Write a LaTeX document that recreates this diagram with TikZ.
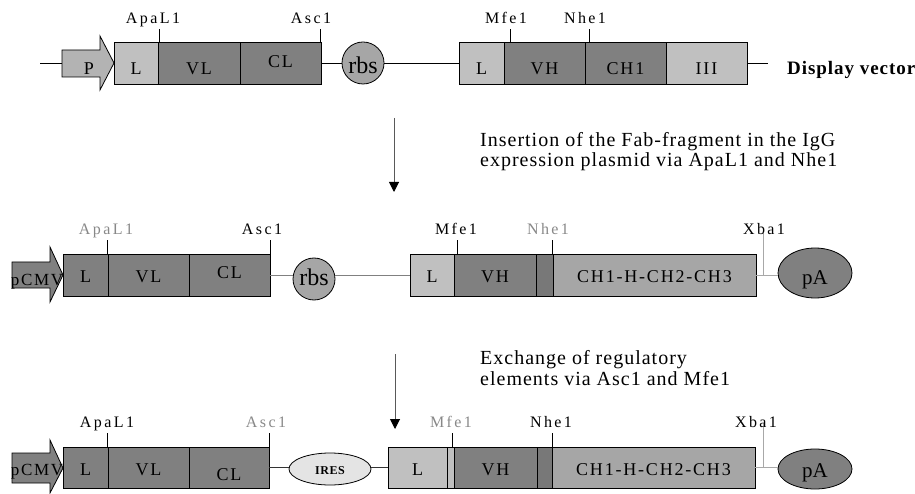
\documentclass[tikz,border=0pt]{standalone}
\usepackage{fontspec}
\setmainfont{Liberation Serif}
\newfontfamily\siteF[LetterSpace=15]{Liberation Serif}
\newfontfamily\boxF[LetterSpace=10]{Liberation Serif}
\newfontfamily\descF[LetterSpace=5]{Liberation Serif}
\newfontfamily\tagF[LetterSpace=5]{Liberation Serif}
\usetikzlibrary{arrows.meta,shapes.geometric}

\definecolor{ltgray}{HTML}{C0C0C0}
\definecolor{dkgray}{HTML}{808080}
\definecolor{mdgray}{HTML}{A6A6A6}
\definecolor{hingegray}{HTML}{787878}
\definecolor{promgray}{HTML}{B3B3B3}
\definecolor{iresgray}{HTML}{E4E4E4}
\definecolor{labgray}{HTML}{888888}
\definecolor{xbagray}{HTML}{A8A8A8}

\begin{document}
\begin{tikzpicture}[x=1pt,y=-1pt,
  seg/.style={draw=black, line width=0.9pt, minimum height=42pt, inner sep=0pt,
    text depth=0pt, font=\boxF\fontsize{18}{18}\selectfont},
  rowA/.style={text height=24pt},
  rowB/.style={text height=14pt},
  rowC/.style={text height=15pt, minimum height=41pt},
  lbl/.style={anchor=base, inner sep=0pt, font=\boxF\fontsize{18}{18}\selectfont},
  site/.style={anchor=base, inner sep=0pt, font=\siteF\fontsize{16}{16}\selectfont},
  off/.style={text=labgray},
  tick/.style={line width=0.8pt},
  bb/.style={line width=0.9pt},
  xba/.style={draw=xbagray, line width=1pt},
  prom/.style={draw=black, line width=0.8pt},
  flow/.style={draw=black!65, line width=1pt, -{Triangle[width=10pt,length=10pt,black]}},
  desc/.style={anchor=base west, inner sep=0pt, font=\descF\fontsize{20}{20}\selectfont},
  rbsnode/.style={circle, draw=black, line width=0.8pt, fill=mdgray, minimum size=42pt,
    inner sep=0pt, text depth=0pt, font=\fontsize{24}{24}\selectfont},
  panode/.style={ellipse, draw=black, line width=0.8pt, fill=dkgray, minimum width=74pt,
    inner sep=0pt, text depth=0pt, font=\fontsize{21}{21}\selectfont}
]
\useasboundingbox (0,0) rectangle (915,494);

% ---------------- display vector ----------------
\coordinate (s1) at (40,63);
\coordinate (pt1) at (62,63);
\draw[bb] (s1) -- (pt1);
\filldraw[prom, fill=promgray] (62,50) -- (100,50) -- (100,36) -- (114,63)
  -- (100,90) -- (100,77) -- (62,77) -- cycle;
\node[lbl] (p1) at (89,75) {P};

\node[seg, rowA, fill=ltgray, minimum width=44pt] (l1) at (136,63) {L};
\node[seg, rowA, fill=dkgray, minimum width=82pt] (vl1) at (199,63) {VL};
\node[seg, text height=10pt, fill=dkgray, minimum width=81pt] (cl1) at (280.5,63) {CL};
\node[rbsnode, text height=22pt] (rbs1) at (363,63) {rbs};
\node[seg, rowA, fill=ltgray, minimum width=45pt] (lh1) at (481.5,63) {L};
\node[seg, rowA, fill=dkgray, minimum width=81pt] (vh1) at (544.5,63) {VH};
\node[seg, rowA, fill=dkgray, minimum width=81pt] (ch1) at (625.5,63) {CH1};
\node[seg, rowA, fill=ltgray, minimum width=81pt] (iii1) at (706.5,63) {III};
\coordinate (e1) at (768,63);
\draw[bb] (cl1.east) -- (rbs1.west);
\draw[bb] (rbs1.east) -- (lh1.west);
\draw[bb] (iii1.east) -- (e1);
\node[anchor=base west, inner sep=0pt, font=\tagF\fontsize{19}{19}\selectfont\bfseries]
  (dv) at (787,75) {Display vector};

\draw[tick] ([xshift=2pt]vl1.north west) -- ++(0,-13);
\draw[tick] ([xshift=-1pt]cl1.north east) -- ++(0,-13);
\draw[tick] ([xshift=7pt]vh1.north west) -- ++(0,-13);
\draw[tick] ([xshift=5pt]ch1.north west) -- ++(0,-13);
\node[site] (apa1) at (153,24) {ApaL1};
\node[site] (asc1) at (311,24) {Asc1};
\node[site] (mfe1) at (506,24) {Mfe1};
\node[site] (nhe1) at (585,24) {Nhe1};

% ---------------- step 1 ----------------
\coordinate (a1s) at (394,118);
\coordinate (a1e) at (394,192);
\draw[flow] (a1s) -- (a1e);
\node[desc] (d1a) at (480,147) {Insertion of the Fab-fragment in the IgG};
\node[desc] (d1b) at (480,167) {expression plasmid via ApaL1 and Nhe1};

% ---------------- IgG expression plasmid ----------------
\filldraw[prom, fill=dkgray] (12,262) -- (50,262) -- (50,247) -- (63,275)
  -- (50,302) -- (50,288) -- (12,288) -- cycle;
\node[lbl, font=\boxF\fontsize{17}{17}\selectfont] (cmv2) at (37,286) {pCMV};

\node[seg, rowB, fill=dkgray, minimum width=45pt] (l2) at (85.5,275) {L};
\node[seg, rowB, fill=dkgray, minimum width=81pt] (vl2) at (148.5,275) {VL};
\node[seg, text height=8pt, fill=dkgray, minimum width=81pt] (cl2) at (229.5,275) {CL};
\node[rbsnode, text height=14pt] (rbs2) at (314,279) {rbs};
\node[seg, rowB, fill=ltgray, minimum width=44pt] (lh2) at (432,275) {L};
\node[seg, rowB, fill=dkgray, minimum width=82pt] (vh2) at (495,275) {VH};
\node[seg, rowB, fill=hingegray, minimum width=17pt] (hg2) at (544.5,275) {};
\node[seg, rowB, fill=mdgray, minimum width=203pt] (cc2) at (654.5,275) {CH1-H-CH2-CH3};
\node[panode, minimum height=50pt, text height=22pt] (pa2) at (815,273) {pA};
\draw[bb, draw=dkgray] (cl2.east) -- (cl2.east -| rbs2.west);
\draw[bb, draw=dkgray] (lh2.west -| rbs2.east) -- (lh2.west);
\draw[xba] (cc2.east) -- (cc2.east -| pa2.west);
\coordinate (xb2) at ([xshift=7pt]cc2.east);
\draw[xba] (xb2) -- ++(0,-42);

\draw[tick] (vl2.north west) -- ++(0,-14);
\draw[tick] (cl2.north east) -- ++(0,-14);
\draw[tick] ([xshift=4pt]vh2.north west) -- ++(0,-14);
\draw[tick] ([xshift=-1pt]hg2.north east) -- ++(0,-14);
\node[site, off] (apa2) at (106,235) {ApaL1};
\node[site] (asc2) at (262,235) {Asc1};
\node[site] (mfe2) at (456,235) {Mfe1};
\node[site, off] (nhe2) at (548,235) {Nhe1};
\node[site] (xba2) at (764,235) {Xba1};

% ---------------- step 2 ----------------
\coordinate (a2s) at (395,354);
\coordinate (a2e) at (395,429);
\draw[flow] (a2s) -- (a2e);
\node[desc] (d2a) at (480,364) {Exchange of regulatory};
\node[desc] (d2b) at (480,385) {elements via Asc1 and Mfe1};

% ---------------- IRES construct ----------------
\filldraw[prom, fill=dkgray] (12,453) -- (50,453) -- (50,440) -- (63,468)
  -- (50,493) -- (50,483) -- (12,483) -- cycle;
\node[lbl, font=\boxF\fontsize{17}{17}\selectfont] (cmv3) at (37,475) {pCMV};

\node[seg, rowC, fill=dkgray, minimum width=45pt] (l3) at (85.5,467.5) {L};
\node[seg, rowC, fill=dkgray, minimum width=81pt] (vl3) at (148.5,467.5) {VL};
\node[seg, rowC, text height=25pt, fill=dkgray, minimum width=80pt] (cl3) at (229,467.5) {CL};
\node[ellipse, draw=black, line width=0.8pt, fill=iresgray, minimum width=82pt,
  minimum height=32pt, inner sep=0pt, text height=10pt, text depth=0pt,
  font=\tagF\fontsize{12}{12}\selectfont\bfseries] (ires3) at (330,469) {IRES};
\node[seg, rowC, fill=ltgray, minimum width=59pt] (lh3) at (417.5,467.5) {L};
\node[seg, rowC, fill=ltgray, minimum width=7pt] (st3) at (450.5,467.5) {};
\node[seg, rowC, fill=dkgray, minimum width=83pt] (vh3) at (495.5,467.5) {VH};
\node[seg, rowC, fill=hingegray, minimum width=15pt] (hg3) at (544.5,467.5) {};
\node[seg, rowC, fill=mdgray, minimum width=203pt] (cc3) at (653.5,467.5) {CH1-H-CH2-CH3};
\node[panode, minimum height=40pt, text height=16pt] (pa3) at (815,469) {pA};
\draw[bb, draw=black!80] (cl3.east) -- (cl3.east -| ires3.west);
\draw[bb, draw=black!80] (lh3.west -| ires3.east) -- (lh3.west);
\draw[xba] (cc3.east) -- (cc3.east -| pa3.west);
\coordinate (xb3) at ([xshift=8pt]cc3.east);
\draw[xba] (xb3) -- ++(0,-45);

\draw[tick] (vl3.north west) -- ++(0,-14);
\draw[tick] (cl3.north east) -- ++(0,-14);
\draw[tick] ([xshift=-1pt]vh3.north west) -- ++(0,-14);
\draw[tick] (hg3.north east) -- ++(0,-14);
\node[site] (apa3) at (107,427) {ApaL1};
\node[site, off] (asc3) at (266,427) {Asc1};
\node[site, off] (mfe3) at (451,427) {Mfe1};
\node[site] (nhe3) at (551,427) {Nhe1};
\node[site] (xba3) at (756,427) {Xba1};
\end{tikzpicture}
\end{document}
